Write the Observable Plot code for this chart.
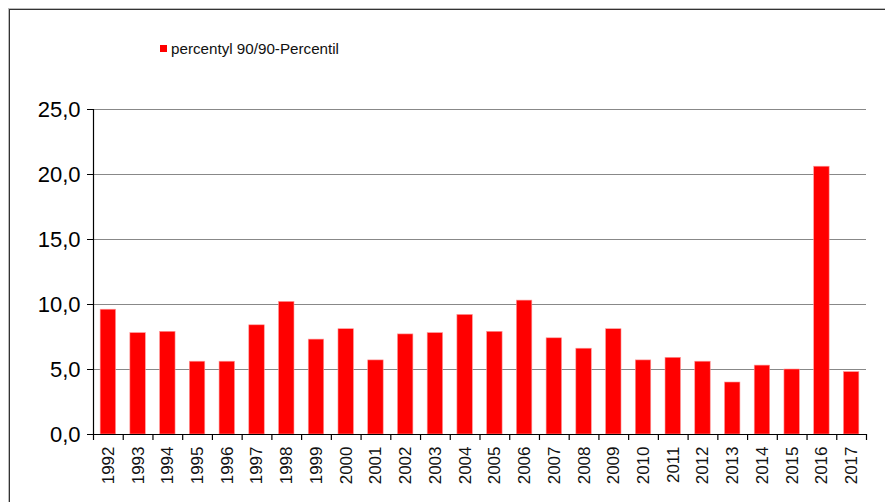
<!DOCTYPE html>
<html>
<head>
<meta charset="utf-8">
<script src="https://cdn.jsdelivr.net/npm/d3@7"></script>
<script src="https://cdn.jsdelivr.net/npm/@observablehq/plot@0.6"></script>
<style>
  html, body { margin: 0; padding: 0; background: #fff; }
  #wrap { position: relative; width: 885px; height: 502px; overflow: hidden; font-family: "Liberation Sans", Arial, sans-serif; }
  #frame { position: absolute; left: 9px; top: 9px; width: 900px; height: 520px; border-top: 1px solid #333; border-left: 1px solid #333; box-shadow: -1px -1px 0 #bbb; pointer-events: none; }
  #legend { position: absolute; left: 160px; top: 40px; font-size: 15.2px; color: #111; display: flex; align-items: center; white-space: nowrap; }
  #legend .sw { width: 7px; height: 7px; background: #ff0000; margin-right: 4px; }
</style>
</head>
<body>
<div id="wrap">
  <div id="chart"></div>
  <div id="frame"></div>
  <div id="legend"><span class="sw"></span><span id="legendText"></span></div>
</div>
<script>
const years = ["1992","1993","1994","1995","1996","1997","1998","1999","2000","2001","2002","2003","2004","2005","2006","2007","2008","2009","2010","2011","2012","2013","2014","2015","2016","2017"];
const values = [9.6,7.8,7.9,5.6,5.6,8.4,10.2,7.3,8.1,5.7,7.7,7.8,9.2,7.9,10.3,7.4,6.6,8.1,5.7,5.9,5.6,4.0,5.3,5.0,20.6,4.8];
const yTicks = [0,5,10,15,20,25];
const seriesName = "percentyl 90/90-Percentil";

document.getElementById("legendText").textContent = seriesName;

const data = years.map((y, i) => ({year: y, value: values[i]}));

const W = 885, H = 502, mL = 93, mR = 19, mT = 109, mB = 68;
const step = (W - mL - mR) / years.length;
const fmt = d => d.toFixed(1).replace(".", ",");

const chart = Plot.plot({
  width: W, height: H,
  marginLeft: mL, marginRight: mR, marginTop: mT, marginBottom: mB,
  style: {fontFamily: "'Liberation Sans', Arial, sans-serif", background: "transparent", color: "#000", overflow: "visible"},
  x: {domain: years, paddingInner: 0.48, paddingOuter: 0.24, round: false, axis: null, label: null},
  y: {domain: [0, 25], axis: null, label: null},
  marks: [
    Plot.gridY(yTicks.filter(d => d > 0), {stroke: "#888", strokeOpacity: 1, strokeWidth: 1}),
    Plot.barY(data, {x: "year", y: "value", fill: "#ff0000", stroke: "#ff9a9a", strokeWidth: 0.6}),
    Plot.ruleY([0], {stroke: "#000", strokeWidth: 1.2}),
    Plot.frame({anchor: "left", stroke: "#000", strokeWidth: 1.2}),
    Plot.axisY(yTicks, {anchor: "left", tickSize: 6, tickPadding: 7, fontSize: 22, tickFormat: fmt, stroke: "#000", fill: "#000"}),
    Plot.ruleX(years, {x: d => d, y1: 0, y2: -6 / 13, dx: -step / 2, stroke: "#000", strokeWidth: 1.2}),
    Plot.ruleX([years[years.length - 1]], {x: d => d, y1: 0, y2: -6 / 13, dx: step / 2, stroke: "#000", strokeWidth: 1.2}),
    Plot.axisX({tickSize: 0, tickPadding: 12, tickRotate: -90, fontSize: 17, fill: "#111"})
  ]
});
document.getElementById("chart").appendChild(chart);
</script>
</body>
</html>
